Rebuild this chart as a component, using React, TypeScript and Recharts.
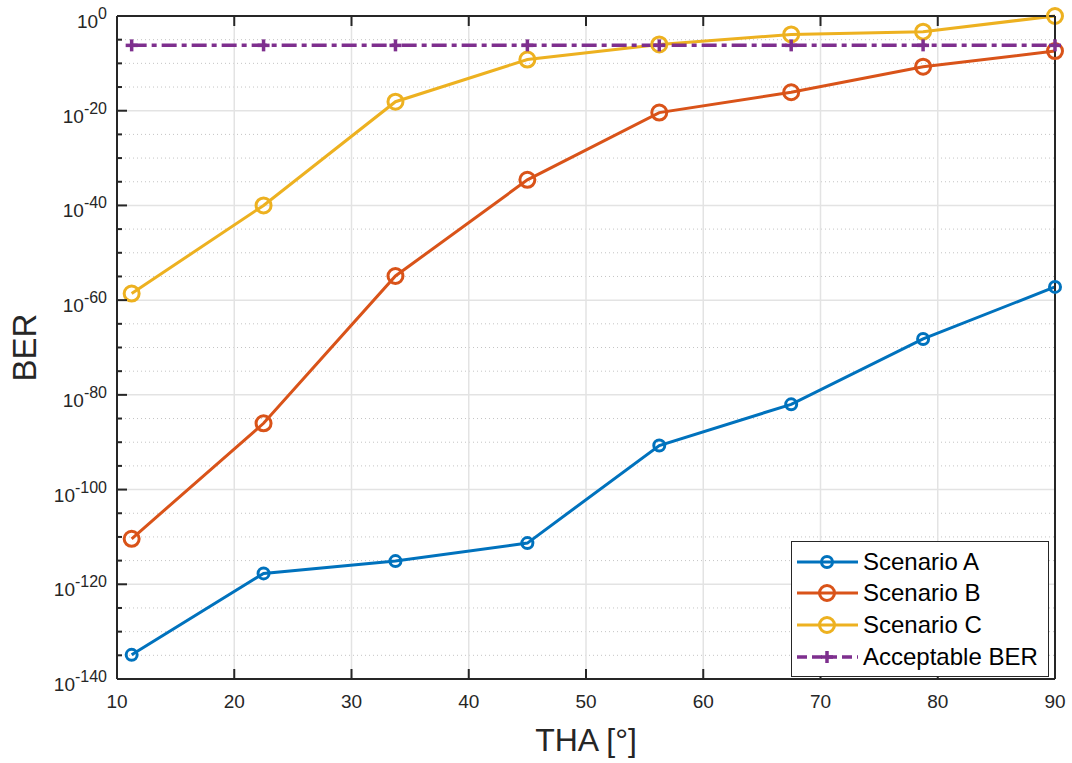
import { LineChart, Line, XAxis, YAxis, CartesianGrid } from 'recharts';

// THA in degrees, BER values stored as log10(BER)
const THA = [11.25, 22.5, 33.75, 45, 56.25, 67.5, 78.75, 90];
const SCENARIO_A = [-134.9, -117.7, -115.1, -111.3, -90.7, -82.0, -68.2, -57.2];
const SCENARIO_B = [-110.4, -86.0, -54.9, -34.6, -20.4, -16.1, -10.7, -7.4];
const SCENARIO_C = [-58.6, -40.0, -18.1, -9.2, -6.0, -3.9, -3.3, 0];
const ACCEPTABLE = [-6.2, -6.2, -6.2, -6.2, -6.2, -6.2, -6.2, -6.2];

const X_TICKS = [10, 20, 30, 40, 50, 60, 70, 80, 90];
const X_GRID = [20, 30, 40, 50, 60, 70, 80];
const Y_MAJOR = [-140, -120, -100, -80, -60, -40, -20, 0];
const Y_MINOR = [
  -135, -130, -125, -115, -110, -105, -95, -90, -85, -75, -70, -65,
  -55, -50, -45, -35, -30, -25, -15, -10, -5,
];
const Y_TICKS = [...Y_MAJOR, ...Y_MINOR].sort((a, b) => a - b);

const SERIES = [
  { key: 'a', label: 'Scenario A', color: '#0072BD', values: SCENARIO_A, marker: 'o', r: 5.5, dash: undefined },
  { key: 'b', label: 'Scenario B', color: '#D95319', values: SCENARIO_B, marker: 'o', r: 7.5, dash: undefined },
  { key: 'c', label: 'Scenario C', color: '#EDB120', values: SCENARIO_C, marker: 'o', r: 7.5, dash: undefined },
  { key: 'acc', label: 'Acceptable BER', color: '#7E2F8E', values: ACCEPTABLE, marker: '+', r: 6, dash: '15 5 5 5' },
];

const data = THA.map((x, i) => {
  const row: Record<string, number> = { x };
  SERIES.forEach((s) => { row[s.key] = s.values[i]; });
  return row;
});

const FONT = '"Liberation Sans", Arial, Helvetica, sans-serif';
const AXIS = '#262626';

function Marker({ cx, cy, color, marker, r }: any) {
  if (cx == null || cy == null) return <g />;
  if (marker === '+') {
    return (
      <g>
        <line x1={cx - r} x2={cx + r} y1={cy} y2={cy} stroke={color} strokeWidth={3.5} />
        <line x1={cx} x2={cx} y1={cy - r} y2={cy + r} stroke={color} strokeWidth={3.5} />
      </g>
    );
  }
  return <circle cx={cx} cy={cy} r={r} fill="none" stroke={color} strokeWidth={3} />;
}

function YTick({ x, y, payload, side }: any) {
  const v = payload.value;
  const major = v % 20 === 0;
  const len = major ? 10 : 5;
  const dir = side === 'left' ? 1 : -1;
  return (
    <g>
      <line x1={x} x2={x + dir * len} y1={y} y2={y} stroke={AXIS} strokeWidth={2} />
      {side === 'left' && major && (
        <text x={x - 10} y={y + 12} textAnchor="end" fill={AXIS} fontSize={19} fontFamily={FONT}>
          10<tspan dy={-9} fontSize={16}>{v}</tspan>
        </text>
      )}
    </g>
  );
}

function XTick({ x, y, payload, side }: any) {
  const dir = side === 'bottom' ? -1 : 1;
  return (
    <g>
      <line x1={x} x2={x} y1={y} y2={y + dir * 10} stroke={AXIS} strokeWidth={2} />
      {side === 'bottom' && (
        <text x={x} y={y + 29} textAnchor="middle" fill={AXIS} fontSize={19} fontFamily={FONT}>
          {payload.value}
        </text>
      )}
    </g>
  );
}

function LegendBox() {
  const rows = [21, 52, 84, 116];
  return (
    <svg width={258} height={136} style={{ position: 'absolute', left: 791, top: 541 }}>
      <rect x={0.5} y={0.5} width={257} height={135} fill="#fff" stroke={AXIS} strokeWidth={1} />
      {SERIES.map((s, i) => (
        <g key={s.key}>
          <line x1={6} x2={67} y1={rows[i]} y2={rows[i]} stroke={s.color} strokeWidth={s.dash ? 3.5 : 3} strokeDasharray={s.dash ? '10 5' : undefined} />
          <Marker cx={36} cy={rows[i]} color={s.color} marker={s.marker} r={s.r} />
          <text x={72} y={rows[i] + 8} fontSize={24} fontFamily={FONT} fill="#000">{s.label}</text>
        </g>
      ))}
    </svg>
  );
}

export default function App() {
  return (
    <div style={{ position: 'fixed', left: 0, top: 0, width: 1072, height: 763, background: '#fff' }}>
      <LineChart width={1072} height={763} data={data} margin={{ top: 15, right: 16, bottom: 0, left: 0 }}>
        <CartesianGrid xAxisId="bottom" yAxisId="left" horizontalValues={Y_MINOR} vertical={false} stroke="#c4c4c4" strokeDasharray="1 3" />
        <CartesianGrid xAxisId="bottom" yAxisId="left" horizontalValues={Y_MAJOR} verticalValues={X_GRID} stroke="#e3e3e3" strokeWidth={1.5} />
        <XAxis
          xAxisId="bottom"
          dataKey="x"
          type="number"
          domain={[10, 90]}
          ticks={X_TICKS}
          interval={0}
          height={84}
          tickSize={0}
          tickMargin={0}
          axisLine={{ stroke: AXIS, strokeWidth: 2 }}
          tickLine={false}
          tick={(p: any) => <XTick {...p} side="bottom" />}
          label={{
            content: ({ viewBox }: any) => (
              <text x={viewBox.x + viewBox.width / 2} y={viewBox.y + 72} textAnchor="middle" fontSize={32} fontFamily={FONT} fill={AXIS}>
                THA [°]
              </text>
            ),
          }}
        />
        <XAxis
          xAxisId="top"
          orientation="top"
          dataKey="x"
          type="number"
          domain={[10, 90]}
          ticks={X_TICKS}
          interval={0}
          height={1}
          tickSize={0}
          tickMargin={0}
          axisLine={{ stroke: AXIS, strokeWidth: 2 }}
          tickLine={false}
          tick={(p: any) => <XTick {...p} side="top" />}
        />
        <YAxis
          yAxisId="left"
          type="number"
          domain={[-140, 0]}
          ticks={Y_TICKS}
          interval={0}
          width={117}
          tickSize={0}
          tickMargin={0}
          axisLine={{ stroke: AXIS, strokeWidth: 2 }}
          tickLine={false}
          tick={(p: any) => <YTick {...p} side="left" />}
          label={{
            content: ({ viewBox }: any) => {
              const cx = 36;
              const cy = viewBox.y + viewBox.height / 2;
              return (
                <text x={cx} y={cy} transform={`rotate(-90, ${cx}, ${cy})`} textAnchor="middle" fontSize={33} fontFamily={FONT} fill={AXIS}>
                  BER
                </text>
              );
            },
          }}
        />
        <YAxis
          yAxisId="right"
          orientation="right"
          type="number"
          domain={[-140, 0]}
          ticks={Y_TICKS}
          interval={0}
          width={1}
          tickSize={0}
          tickMargin={0}
          axisLine={{ stroke: AXIS, strokeWidth: 2 }}
          tickLine={false}
          tick={(p: any) => <YTick {...p} side="right" />}
        />
        {SERIES.map((s) => (
          <Line
            key={s.key}
            xAxisId="bottom"
            yAxisId="left"
            dataKey={s.key}
            name={s.label}
            type="linear"
            stroke={s.color}
            strokeWidth={s.dash ? 3.5 : 3}
            strokeDasharray={s.dash}
            dot={(p: any) => <Marker key={`${s.key}-${p.index}`} cx={p.cx} cy={p.cy} color={s.color} marker={s.marker} r={s.r} />}
            activeDot={false}
            isAnimationActive={false}
          />
        ))}
      </LineChart>
      <LegendBox />
    </div>
  );
}
